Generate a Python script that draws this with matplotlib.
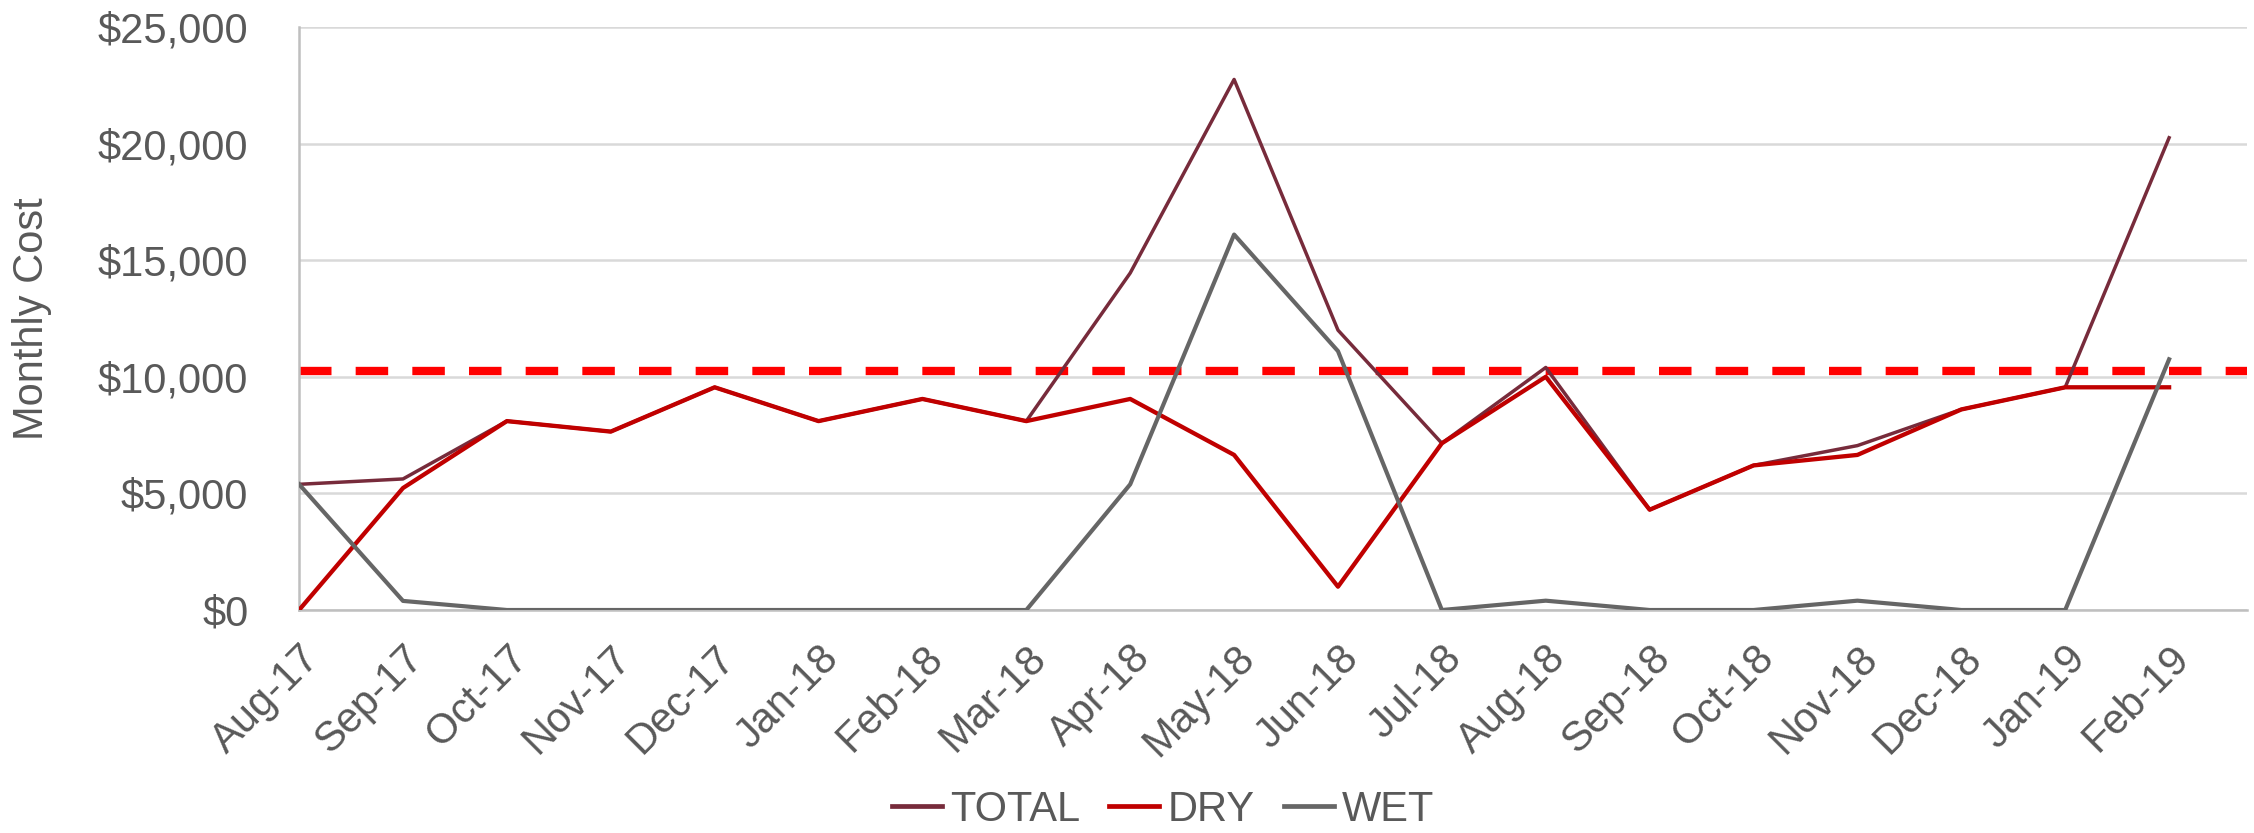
import matplotlib.pyplot as plt
from matplotlib.ticker import FuncFormatter

plt.rcParams["font.family"] = ["Liberation Sans", "DejaVu Sans"]

months = ["Aug-17", "Sep-17", "Oct-17", "Nov-17", "Dec-17", "Jan-18", "Feb-18",
          "Mar-18", "Apr-18", "May-18", "Jun-18", "Jul-18", "Aug-18", "Sep-18",
          "Oct-18", "Nov-18", "Dec-18", "Jan-19", "Feb-19"]
total = [5390, 5620, 8100, 7650, 9550, 8100, 9050, 8100, 14450, 22750, 12000,
         7150, 10400, 4300, 6200, 7050, 8600, 9550, 20250]
dry = [0, 5230, 8100, 7650, 9550, 8100, 9050, 8100, 9050, 6650, 1000,
       7150, 10000, 4300, 6200, 6650, 8600, 9550, 9550]
wet = [5390, 390, 0, 0, 0, 0, 0, 0, 5390, 16100, 11100,
       0, 400, 0, 0, 400, 0, 0, 10750]
budget = 10250

TEXT = "#595959"
FS = 30

fig = plt.figure(figsize=(22.54, 8.33), dpi=100)
ax = fig.add_axes([0.1327, 0.2677, 0.9969 - 0.1327, 0.9676 - 0.2677])

x = list(range(len(months)))
ax.plot(x, total, color="#772B3B", lw=2.5, label="TOTAL", zorder=3)
ax.plot(x, dry, color="#C00000", lw=3.1, label="DRY", zorder=4)
ax.plot(x, wet, color="#666666", lw=3.0, label="WET", zorder=5)
# budget line, thick red dashes across the full width
ax.axhline(budget, color="#FF0000", lw=6, dashes=(3.9, 2.9), dash_capstyle="butt",
           zorder=2)

ax.set_xlim(0, 18.75)
ax.set_ylim(0, 25000)
ax.set_yticks(range(0, 25001, 5000))
ax.yaxis.set_major_formatter(FuncFormatter(lambda v, _: f"${v:,.0f}"))
ax.set_xticks(x)
ax.set_xticklabels(months, rotation=45, ha="right", va="top", rotation_mode="anchor")

ax.grid(axis="y", color="#D9D9D9", lw=1.8, zorder=0)
ax.set_axisbelow(True)
for side in ("top", "right"):
    ax.spines[side].set_visible(False)
for side in ("left", "bottom"):
    ax.spines[side].set_color("#BFBFBF")
    ax.spines[side].set_linewidth(1.8)
ax.tick_params(axis="y", length=0, pad=36.5, labelsize=FS, labelcolor=TEXT)
ax.tick_params(axis="x", length=0, pad=20, labelsize=FS, labelcolor=TEXT)

ax.set_ylabel("Monthly Cost", fontsize=FS, color=TEXT)
ax.yaxis.set_label_coords(-0.127, 0.5)

leg = fig.legend(loc="center", bbox_to_anchor=(0.516, 0.028), ncol=3, frameon=False,
                 fontsize=FS, labelcolor=TEXT, handlelength=1.2, handletextpad=0.2,
                 columnspacing=0.7)
for line in leg.get_lines():
    line.set_linewidth(3.4)

fig.savefig("out.png", dpi=100)
